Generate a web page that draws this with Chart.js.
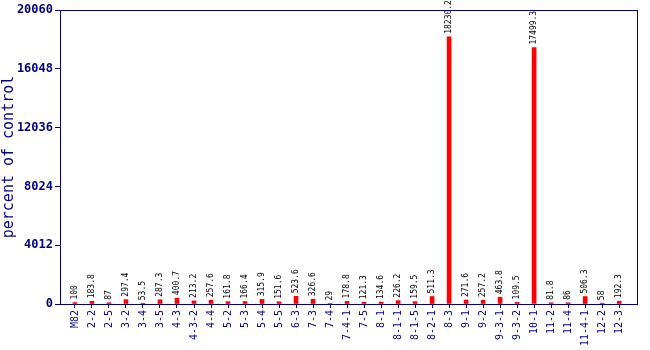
<!DOCTYPE html>
<html>
<head>
<meta charset="utf-8">
<script src="https://cdn.jsdelivr.net/npm/chart.js@4/dist/chart.umd.min.js"></script>
<style>
  html, body { margin: 0; padding: 0; background: #fff; }
  #wrap { width: 650px; height: 350px; }
</style>
</head>
<body>
<div id="wrap"><canvas id="chart" width="650" height="350"></canvas></div>
<script>
// Datos
const categories = ["M82", "2-2", "2-5", "3-2", "3-4", "3-5", "4-3", "4-3-2", "4-4", "5-2", "5-3",
  "5-4", "5-5", "6-3", "7-3", "7-4", "7-4-1", "7-5", "8-1", "8-1-1", "8-1-5", "8-2-1", "8-3",
  "9-1", "9-2", "9-3-1", "9-3-2", "10-1", "11-2", "11-4", "11-4-1", "12-2", "12-3"];
const values = [100, 183.8, 87, 297.4, 53.5, 287.3, 400.7, 213.2, 257.6, 161.8, 166.4,
  315.9, 151.6, 523.6, 326.6, 29, 178.8, 121.3, 134.6, 226.2, 159.5, 511.3, 18230.2,
  271.6, 257.2, 463.8, 109.5, 17499.3, 81.8, 86, 506.3, 58, 192.3];
const yTicks = [0, 4012, 8024, 12036, 16048, 20060];

const navy = "#000080";

// Etiquetas de valor encima de cada barra
const valueLabels = {
  id: "valueLabels",
  afterDatasetsDraw(chart) {
    const ctx = chart.ctx;
    const meta = chart.getDatasetMeta(0);
    ctx.save();
    ctx.font = "8px 'DejaVu Sans Mono', monospace";
    ctx.fillStyle = "#000";
    ctx.textAlign = "left";
    ctx.textBaseline = "middle";
    meta.data.forEach((bar, i) => {
      ctx.save();
      ctx.translate(bar.x, bar.y - 3);
      ctx.rotate(-Math.PI / 2);
      ctx.fillText(String(values[i]), 0, 0);
      ctx.restore();
    });
    ctx.restore();
  }
};

new Chart(document.getElementById("chart"), {
  type: "bar",
  data: {
    datasets: [{
      data: values.map((v, i) => ({ x: i, y: v })),
      backgroundColor: "#ff0000",
      borderWidth: 0,
      barThickness: 4
    }]
  },
  options: {
    responsive: false,
    animation: false,
    layout: { padding: { top: 10, right: 13, left: 0, bottom: 0 } },
    plugins: {
      legend: { display: false },
      tooltip: { enabled: false }
    },
    scales: {
      x: {
        type: "linear",
        offset: false,
        min: -0.88,
        max: 33.05,
        afterBuildTicks: (scale) => {
          scale.ticks = categories.map((c, i) => ({ value: i }));
        },
        afterFit: (scale) => { scale.height = 46; },
        ticks: {
          autoSkip: false,
          minRotation: 90,
          maxRotation: 90,
          padding: 2,
          color: navy,
          font: { family: "'DejaVu Sans Mono', monospace", size: 10 },
          callback: (v) => categories[v]
        },
        grid: { drawOnChartArea: false, tickLength: 4, color: navy, offset: false },
        border: { color: navy, width: 1 }
      },
      y: {
        min: 0,
        max: 20060,
        afterBuildTicks: (scale) => {
          scale.ticks = yTicks.map(v => ({ value: v }));
        },
        afterFit: (scale) => { scale.width = 60; },
        ticks: {
          padding: 2,
          color: navy,
          font: { family: "'DejaVu Sans Mono', monospace", size: 12, weight: "bold" },
          callback: (v) => String(v)
        },
        grid: { drawOnChartArea: false, tickLength: 5, color: navy },
        border: { color: navy, width: 1 },
        title: {
          display: true,
          text: "percent of control",
          color: navy,
          padding: { top: 0, bottom: 0 },
          font: { family: "'DejaVu Sans Mono', monospace", size: 15 }
        }
      }
    }
  },
  plugins: [valueLabels, {
    id: "frame",
    afterDraw(chart) {
      const a = chart.chartArea;
      const ctx = chart.ctx;
      ctx.save();
      ctx.strokeStyle = navy;
      ctx.lineWidth = 1;
      ctx.strokeRect(Math.round(a.left) + 0.5, Math.round(a.top) + 0.5,
        Math.round(a.right - a.left), Math.round(a.bottom - a.top));
      ctx.restore();
    }
  }]
});
</script>
</body>
</html>
